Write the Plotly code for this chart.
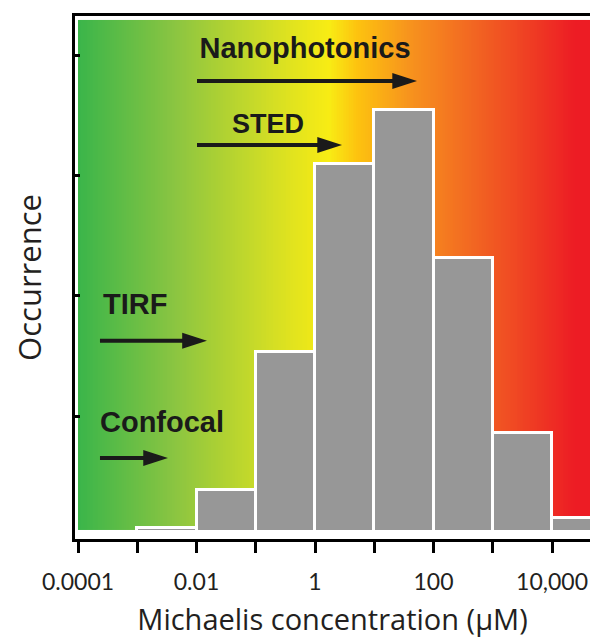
import numpy as np
import plotly.graph_objects as go

# ---------------- data ----------------
bin_lower = [0.001, 0.01, 0.1, 1, 10, 100, 1000, 10000]          # µM
bin_upper = [0.01, 0.1, 1, 10, 100, 1000, 10000, 100000]        # µM
occurrence = [0.03, 0.345, 1.49, 3.055, 3.50, 2.275, 0.815, 0.112]

x_tick_values = [1e-4, 1e-3, 1e-2, 1e-1, 1, 10, 100, 1000, 1e4]
x_tick_labels = ["0.0001", "", "0.01", "", "1", "", "100", "", "10,000"]
y_tick_values = [0.96, 1.96, 2.96, 3.96]

method_names = ["Nanophotonics", "STED", "TIRF", "Confocal"]
method_start = [0.0102, 0.0102, 2.35e-4, 2.35e-4]   # µM
method_tip = [52.7, 2.86, 0.0150, 0.0033]          # µM
arrow_level = [3.745, 3.212, 1.586, 0.611]
label_x = [0.678, 0.161, 2.64e-4, 2.35e-4]
label_y = [4.0, 3.371, 1.866, 0.889]
label_pos = ["middle center", "middle center", "middle right", "middle right"]
label_size = [29, 27, 29, 29]

# background gradient (green -> yellow -> red)
grad_colors = [
    [0.0, "#3AB54A"], [0.19, "#8BC541"], [0.385, "#D6DF23"],
    [0.49, "#F8EC14"], [0.547, "#FDC20F"], [0.645, "#F7941D"],
    [0.775, "#F26522"], [0.873, "#EF4123"], [0.97, "#ED1C24"], [1.0, "#ED1C24"],
]

x_range_log = [-4.0506, 4.6414]
y_range = [-0.0623, 4.285]

fig = go.Figure()

# gradient background as heatmap on the log axis
edges_log = np.linspace(-4, 4.6414, 301)
grad_x = 10 ** edges_log
grad_z = [list((edges_log[:-1] + edges_log[1:]) / 2 + 4)]
fig.add_trace(go.Heatmap(
    x=grad_x, y=[0.012, 4.252], z=grad_z,
    colorscale=grad_colors, zmin=0, zmax=8.6414,
    showscale=False, hoverinfo="skip",
))

# histogram bars
centers = [(lo + hi) / 2 for lo, hi in zip(bin_lower, bin_upper)]
widths = [hi - lo for lo, hi in zip(bin_lower, bin_upper)]
fig.add_trace(go.Bar(
    x=centers, y=occurrence, width=widths,
    marker=dict(color="#979797", line=dict(color="white", width=3)),
    hoverinfo="skip",
))

ink = "#1a1a1a"
for name, x0, x1, yv, lx, ly, lp, ls in zip(method_names, method_start, method_tip,
                                             arrow_level, label_x, label_y, label_pos, label_size):
    fig.add_trace(go.Scatter(
        x=[x0, x1 * 10 ** -0.14], y=[yv, yv], mode="lines",
        line=dict(color=ink, width=4), hoverinfo="skip",
    ))
    fig.add_trace(go.Scatter(
        x=[x1], y=[yv], mode="markers",
        marker=dict(symbol="arrow", size=26, angle=90, color=ink, line=dict(width=0)),
        hoverinfo="skip",
    ))
    fig.add_trace(go.Scatter(
        x=[lx], y=[ly], mode="text", text=[name], textposition=lp,
        textfont=dict(family="Liberation Sans, Arial, sans-serif", size=ls, color=ink, weight="bold"),
        hoverinfo="skip",
    ))

fig.update_layout(
    width=590, height=638,
    margin=dict(l=75, r=0, t=16, b=99),
    paper_bgcolor="white", plot_bgcolor="white",
    showlegend=False, bargap=0,
    font=dict(family="Open Sans, sans-serif", color="#231f20"),
    xaxis=dict(
        type="log", range=x_range_log, automargin=False,
        tickmode="array", tickvals=x_tick_values, ticktext=x_tick_labels,
        ticks="outside", ticklen=11, tickwidth=3, tickcolor="black",
        ticklabelstandoff=9,
        tickfont=dict(family="Lato, sans-serif", size=23, color="#231f20"),
        showline=True, linewidth=3, linecolor="black", mirror=True,
        showgrid=False, zeroline=False,
        title=dict(text="Michaelis concentration (μM)", font=dict(size=29, color="#231f20"), standoff=20),
    ),
    yaxis=dict(
        range=y_range, automargin=False,
        tickmode="array", tickvals=y_tick_values, showticklabels=False,
        ticks="inside", ticklen=5, tickwidth=2.5, tickcolor="black",
        showline=True, linewidth=3, linecolor="black",
        showgrid=False, zeroline=False,
        title=dict(text="Occurrence", font=dict(size=31, color="#231f20"), standoff=22),
    ),
)

fig.write_html("out.html", config={"displayModeBar": False},
               post_script="document.body.style.margin='0';")
